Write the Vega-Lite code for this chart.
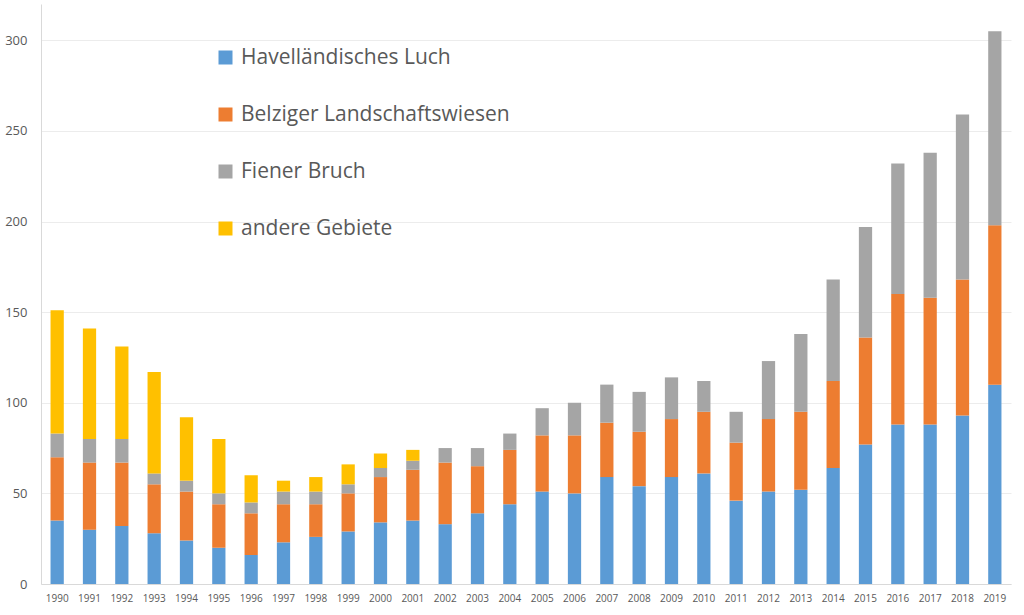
{
  "$schema": "https://vega.github.io/schema/vega-lite/v6.json",
  "autosize": "none",
  "width": 970,
  "height": 580,
  "padding": {"left": 41, "top": 4, "right": 13, "bottom": 31},
  "background": "#ffffff",
  "config": {
    "view": {"stroke": null},
    "font": "Open Sans"
  },
  "datasets": {
    "gebiete": [
      {"gebiet": "Havelländisches Luch", "rang": 1},
      {"gebiet": "Belziger Landschaftswiesen", "rang": 2},
      {"gebiet": "Fiener Bruch", "rang": 3},
      {"gebiet": "andere Gebiete", "rang": 4}
    ]
  },
  "data": {
    "values": [
      {"jahr": "1990", "Havelländisches Luch": 35, "Belziger Landschaftswiesen": 35, "Fiener Bruch": 13, "andere Gebiete": 68},
      {"jahr": "1991", "Havelländisches Luch": 30, "Belziger Landschaftswiesen": 37, "Fiener Bruch": 13, "andere Gebiete": 61},
      {"jahr": "1992", "Havelländisches Luch": 32, "Belziger Landschaftswiesen": 35, "Fiener Bruch": 13, "andere Gebiete": 51},
      {"jahr": "1993", "Havelländisches Luch": 28, "Belziger Landschaftswiesen": 27, "Fiener Bruch": 6, "andere Gebiete": 56},
      {"jahr": "1994", "Havelländisches Luch": 24, "Belziger Landschaftswiesen": 27, "Fiener Bruch": 6, "andere Gebiete": 35},
      {"jahr": "1995", "Havelländisches Luch": 20, "Belziger Landschaftswiesen": 24, "Fiener Bruch": 6, "andere Gebiete": 30},
      {"jahr": "1996", "Havelländisches Luch": 16, "Belziger Landschaftswiesen": 23, "Fiener Bruch": 6, "andere Gebiete": 15},
      {"jahr": "1997", "Havelländisches Luch": 23, "Belziger Landschaftswiesen": 21, "Fiener Bruch": 7, "andere Gebiete": 6},
      {"jahr": "1998", "Havelländisches Luch": 26, "Belziger Landschaftswiesen": 18, "Fiener Bruch": 7, "andere Gebiete": 8},
      {"jahr": "1999", "Havelländisches Luch": 29, "Belziger Landschaftswiesen": 21, "Fiener Bruch": 5, "andere Gebiete": 11},
      {"jahr": "2000", "Havelländisches Luch": 34, "Belziger Landschaftswiesen": 25, "Fiener Bruch": 5, "andere Gebiete": 8},
      {"jahr": "2001", "Havelländisches Luch": 35, "Belziger Landschaftswiesen": 28, "Fiener Bruch": 5, "andere Gebiete": 6},
      {"jahr": "2002", "Havelländisches Luch": 33, "Belziger Landschaftswiesen": 34, "Fiener Bruch": 8, "andere Gebiete": 0},
      {"jahr": "2003", "Havelländisches Luch": 39, "Belziger Landschaftswiesen": 26, "Fiener Bruch": 10, "andere Gebiete": 0},
      {"jahr": "2004", "Havelländisches Luch": 44, "Belziger Landschaftswiesen": 30, "Fiener Bruch": 9, "andere Gebiete": 0},
      {"jahr": "2005", "Havelländisches Luch": 51, "Belziger Landschaftswiesen": 31, "Fiener Bruch": 15, "andere Gebiete": 0},
      {"jahr": "2006", "Havelländisches Luch": 50, "Belziger Landschaftswiesen": 32, "Fiener Bruch": 18, "andere Gebiete": 0},
      {"jahr": "2007", "Havelländisches Luch": 59, "Belziger Landschaftswiesen": 30, "Fiener Bruch": 21, "andere Gebiete": 0},
      {"jahr": "2008", "Havelländisches Luch": 54, "Belziger Landschaftswiesen": 30, "Fiener Bruch": 22, "andere Gebiete": 0},
      {"jahr": "2009", "Havelländisches Luch": 59, "Belziger Landschaftswiesen": 32, "Fiener Bruch": 23, "andere Gebiete": 0},
      {"jahr": "2010", "Havelländisches Luch": 61, "Belziger Landschaftswiesen": 34, "Fiener Bruch": 17, "andere Gebiete": 0},
      {"jahr": "2011", "Havelländisches Luch": 46, "Belziger Landschaftswiesen": 32, "Fiener Bruch": 17, "andere Gebiete": 0},
      {"jahr": "2012", "Havelländisches Luch": 51, "Belziger Landschaftswiesen": 40, "Fiener Bruch": 32, "andere Gebiete": 0},
      {"jahr": "2013", "Havelländisches Luch": 52, "Belziger Landschaftswiesen": 43, "Fiener Bruch": 43, "andere Gebiete": 0},
      {"jahr": "2014", "Havelländisches Luch": 64, "Belziger Landschaftswiesen": 48, "Fiener Bruch": 56, "andere Gebiete": 0},
      {"jahr": "2015", "Havelländisches Luch": 77, "Belziger Landschaftswiesen": 59, "Fiener Bruch": 61, "andere Gebiete": 0},
      {"jahr": "2016", "Havelländisches Luch": 88, "Belziger Landschaftswiesen": 72, "Fiener Bruch": 72, "andere Gebiete": 0},
      {"jahr": "2017", "Havelländisches Luch": 88, "Belziger Landschaftswiesen": 70, "Fiener Bruch": 80, "andere Gebiete": 0},
      {"jahr": "2018", "Havelländisches Luch": 93, "Belziger Landschaftswiesen": 75, "Fiener Bruch": 91, "andere Gebiete": 0},
      {"jahr": "2019", "Havelländisches Luch": 110, "Belziger Landschaftswiesen": 88, "Fiener Bruch": 107, "andere Gebiete": 0}
    ]
  },
  "transform": [
    {"fold": ["Havelländisches Luch", "Belziger Landschaftswiesen", "Fiener Bruch", "andere Gebiete"], "as": ["gebiet", "anzahl"]},
    {"lookup": "gebiet", "from": {"data": {"name": "gebiete"}, "key": "gebiet", "fields": ["rang"]}}
  ],
  "mark": {"type": "bar"},
  "encoding": {
    "x": {
      "field": "jahr",
      "type": "ordinal",
      "scale": {"paddingInner": 0.59, "paddingOuter": 0.295},
      "axis": {
        "title": null,
        "labelAngle": 0,
        "labelFont": "Open Sans",
        "labelFontSize": 10,
        "labelColor": "#595959",
        "labelPadding": 9,
        "ticks": false,
        "domainColor": "#d9d9d9",
        "domainWidth": 1
      }
    },
    "y": {
      "field": "anzahl",
      "type": "quantitative",
      "stack": "zero",
      "scale": {"domain": [0, 320], "nice": false},
      "axis": {
        "title": null,
        "values": [0, 50, 100, 150, 200, 250, 300],
        "labelFont": "Open Sans",
        "labelFontSize": 13,
        "labelColor": "#595959",
        "labelPadding": 14,
        "ticks": false,
        "domainColor": "#d9d9d9",
        "domainWidth": 1,
        "grid": true,
        "gridColor": "#ececec",
        "gridWidth": 1
      }
    },
    "order": {"field": "rang", "type": "quantitative", "sort": "ascending"},
    "color": {
      "field": "gebiet",
      "type": "nominal",
      "sort": ["Havelländisches Luch", "Belziger Landschaftswiesen", "Fiener Bruch", "andere Gebiete"],
      "scale": {
        "domain": ["Havelländisches Luch", "Belziger Landschaftswiesen", "Fiener Bruch", "andere Gebiete"],
        "range": ["#5b9bd5", "#ed7d31", "#a5a5a5", "#ffc000"]
      },
      "legend": {
        "title": null,
        "orient": "none",
        "legendX": 174,
        "legendY": 43,
        "padding": 0,
        "symbolType": "square",
        "symbolSize": 196,
        "symbolStrokeWidth": 0,
        "symbolOpacity": 1,
        "labelFont": "Open Sans",
        "labelFontSize": 21,
        "labelColor": "#595959",
        "labelOffset": 5,
        "rowPadding": 35,
        "labelLimit": 500
      }
    }
  }
}
